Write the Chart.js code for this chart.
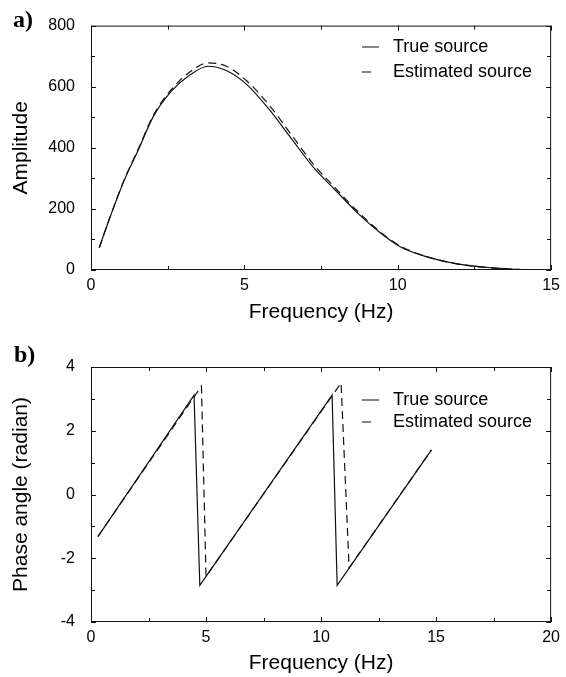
<!DOCTYPE html>
<html>
<head>
<meta charset="utf-8">
<script src="https://cdn.jsdelivr.net/npm/chart.js@4.4.1/dist/chart.umd.min.js"></script>
<style>
  html, body { margin: 0; padding: 0; background: #fff; }
  #wrap { position: relative; width: 566px; height: 677px; }
  #ampChart { position: absolute; left: 0; top: 0; }
  #phaseChart { position: absolute; left: 0; top: 330px; }
</style>
</head>
<body>
<div id="wrap">
  <canvas id="ampChart" width="566" height="330"></canvas>
  <canvas id="phaseChart" width="566" height="347"></canvas>
</div>
<script>
// a) amplitude spectrum
const ampFreq = [0.27, 0.6, 1.08, 1.56, 2.03, 2.63, 3.22, 3.81, 4.41, 5.09, 5.83, 6.54, 7.26, 7.97, 8.68, 9.39, 10.05, 10.82, 11.89, 13.07, 13.9, 14.3];
const ampTrue = [73, 167, 293, 397, 502, 586, 638, 667, 653, 606, 523, 429, 335, 261, 188, 125, 78, 47, 21, 7, 2, 0];
const ampEst  = [73, 168, 295, 400, 506, 592, 648, 678, 667, 618, 537, 442, 345, 268, 193, 128, 80, 48, 21, 7, 2, 0];

// b) wrapped phase spectrum
const phaseFreqTrue = [0.3, 4.48, 4.73, 10.48, 10.7, 14.8];
const phaseTrue     = [-1.32, 3.12, -2.85, 3.12, -2.85, 1.4];
const phaseFreqEst  = [0.3, 4.8, 5.0, 10.87, 11.22, 14.8];
const phaseEst      = [-1.32, 3.4, -2.57, 3.5, -2.3, 1.4];

// tick labels
const ampXTicks = [0, 5, 10, 15];
const ampYTicks = [0, 200, 400, 600, 800];
const phaseXTicks = [0, 5, 10, 15, 20];
const phaseYTicks = [-4, -2, 0, 2, 4];

const seriesNames = ['True source', 'Estimated source'];

Chart.defaults.font.family = "'Liberation Sans', Arial, Helvetica, sans-serif";
Chart.defaults.color = '#000';

const ink = '#111';
const textInk = '#000';

function pts(xs, ys) {
  return xs.map((x, i) => ({ x: x, y: ys[i] }));
}

// box round the plot with inward ticks, legend and panel letter
const framePlugin = {
  id: 'frame',
  afterDatasetsDraw(chart, args, o) {
    const { ctx, chartArea: a, scales: { x, y } } = chart;
    ctx.save();
    ctx.strokeStyle = ink;
    ctx.lineWidth = 1;
    ctx.setLineDash([]);
    ctx.strokeRect(a.left + 0.5, a.top + 0.5, a.width - 1, a.height - 1);

    ctx.beginPath();
    for (let v = x.min; v <= x.max + 1e-9; v += o.xMinor) {
      const px = Math.round(x.getPixelForValue(v)) + 0.5;
      const len = o.xTicks.includes(v) ? 5 : 4;
      ctx.moveTo(px, a.bottom); ctx.lineTo(px, a.bottom - len);
      ctx.moveTo(px, a.top); ctx.lineTo(px, a.top + len);
    }
    for (let v = y.min; v <= y.max + 1e-9; v += o.yMinor) {
      const py = Math.round(y.getPixelForValue(v)) + 0.5;
      const len = o.yTicks.includes(v) ? 5 : 4;
      ctx.moveTo(a.left, py); ctx.lineTo(a.left + len, py);
      ctx.moveTo(a.right, py); ctx.lineTo(a.right - len, py);
    }
    ctx.stroke();

    // legend
    const L = o.legend;
    ctx.lineWidth = 1.2;
    ctx.beginPath();
    ctx.moveTo(L.x0, L.y1); ctx.lineTo(L.x0 + 17, L.y1);
    ctx.moveTo(L.x0, L.y2); ctx.lineTo(L.x0 + 9, L.y2);
    ctx.stroke();
    ctx.fillStyle = textInk;
    ctx.font = "18px 'Liberation Sans', Arial, sans-serif";
    ctx.textBaseline = 'middle';
    ctx.textAlign = 'left';
    ctx.fillText(seriesNames[0], L.tx, L.y1);
    ctx.fillText(seriesNames[1], L.tx, L.y2);

    // panel letter
    ctx.font = "bold 24px 'Liberation Serif', 'Times New Roman', serif";
    ctx.textBaseline = 'alphabetic';
    ctx.fillText(o.letter, o.letterX, o.letterY);
    ctx.restore();
  }
};

function makeChart(id, cfg) {
  return new Chart(document.getElementById(id), {
    type: 'line',
    data: {
      datasets: [
        {
          label: seriesNames[1],
          data: cfg.est,
          borderColor: ink,
          borderWidth: 1.2,
          borderDash: [8, 5],
          pointRadius: 0,
          fill: false,
          cubicInterpolationMode: cfg.smooth ? 'monotone' : 'default',
          tension: 0
        },
        {
          label: seriesNames[0],
          data: cfg.tru,
          borderColor: ink,
          borderWidth: 1.2,
          pointRadius: 0,
          fill: false,
          cubicInterpolationMode: cfg.smooth ? 'monotone' : 'default',
          tension: 0
        }
      ]
    },
    options: {
      responsive: false,
      animation: false,
      events: [],
      layout: { padding: { left: 0, right: 14, top: cfg.top, bottom: 0 } },
      plugins: {
        legend: { display: false },
        tooltip: { enabled: false },
        frame: cfg.frame
      },
      scales: {
        x: {
          type: 'linear',
          min: cfg.xMin, max: cfg.xMax,
          afterBuildTicks: s => { s.ticks = cfg.xTicks.map(v => ({ value: v })); },
          afterFit: s => { s.height = cfg.xHeight; },
          grid: { display: false, drawTicks: false },
          border: { display: false },
          ticks: { padding: 6, font: { size: 16 }, color: textInk, maxRotation: 0, autoSkip: false },
          title: { display: true, text: 'Frequency (Hz)', font: { size: 21 }, color: textInk, padding: { top: 0, bottom: cfg.xTitlePad } }
        },
        y: {
          type: 'linear',
          min: cfg.yMin, max: cfg.yMax,
          afterBuildTicks: s => { s.ticks = cfg.yTicks.map(v => ({ value: v })); },
          afterFit: s => { s.width = 91; },
          grid: { display: false, drawTicks: false },
          border: { display: false },
          ticks: { padding: 16, font: { size: 16 }, color: textInk, autoSkip: false },
          title: { display: true, text: cfg.yTitle, font: { size: 21 }, color: textInk, padding: { top: 9, bottom: 0 } }
        }
      }
    },
    plugins: [framePlugin]
  });
}

makeChart('ampChart', {
  tru: pts(ampFreq, ampTrue),
  est: pts(ampFreq, ampEst),
  smooth: true,
  top: 15,
  xMin: 0, xMax: 15, xTicks: ampXTicks, xHeight: 60, xTitlePad: 5,
  yMin: 0, yMax: 800, yTicks: ampYTicks, yTitle: 'Amplitude',
  frame: {
    xMinor: 2.5, yMinor: 100, xTicks: ampXTicks, yTicks: ampYTicks,
    legend: { x0: 362, tx: 393, y1: 47, y2: 72 },
    letter: 'a)', letterX: 13, letterY: 27
  }
});

makeChart('phaseChart', {
  tru: pts(phaseFreqTrue, phaseTrue),
  est: pts(phaseFreqEst, phaseEst),
  smooth: false,
  top: 37,
  xMin: 0, xMax: 20, xTicks: phaseXTicks, xHeight: 55, xTitlePad: 1,
  yMin: -4, yMax: 4, yTicks: phaseYTicks, yTitle: 'Phase angle (radian)',
  frame: {
    xMinor: 2.5, yMinor: 1, xTicks: phaseXTicks, yTicks: phaseYTicks,
    legend: { x0: 362, tx: 393, y1: 70, y2: 92 },
    letter: 'b)', letterX: 14, letterY: 32
  }
});
</script>
</body>
</html>
